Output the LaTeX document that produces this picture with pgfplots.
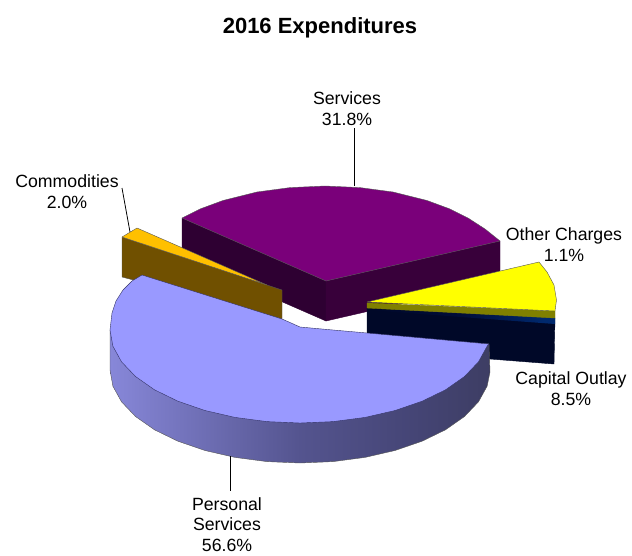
\documentclass[border=0pt]{standalone}
\usepackage{pgfplots}
\pgfplotsset{compat=1.18}
\usepackage{fontspec}
\setmainfont{Liberation Sans}
\definecolor{svcTop}{RGB}{122,0,122}
\definecolor{svcSideL}{RGB}{46,0,50}
\definecolor{svcSideR}{RGB}{56,0,58}
\definecolor{comTop}{RGB}{255,192,0}
\definecolor{comSide}{RGB}{112,80,0}
\definecolor{perTop}{RGB}{153,153,255}
\definecolor{othTop}{RGB}{255,255,0}
\definecolor{othSide}{RGB}{128,128,0}
\definecolor{capSide}{RGB}{0,8,40}
\definecolor{edge}{RGB}{85,85,85}
\definecolor{perEdge}{RGB}{50,50,100}
\pgfdeclarehorizontalshading{perSide}{100bp}{
  rgb(0bp)=(0.53,0.53,0.85);
  rgb(25bp)=(0.53,0.53,0.85);
  rgb(50bp)=(0.33,0.33,0.56);
  rgb(65bp)=(0.27,0.27,0.46);
  rgb(75bp)=(0.24,0.24,0.39);
  rgb(100bp)=(0.23,0.23,0.38)}
\pgfdeclarehorizontalshading{capBandShade}{100bp}{
  rgb(0bp)=(0,0.03,0.16);
  rgb(25bp)=(0,0.03,0.16);
  rgb(50bp)=(0,0.05,0.22);
  rgb(72bp)=(0,0.16,0.43);
  rgb(100bp)=(0,0.16,0.43)}
\begin{document}
\begin{tikzpicture}
\begin{axis}[
  scale only axis, width=632pt, height=553pt,
  xmin=0, xmax=632, ymin=0, ymax=553, y dir=reverse,
  hide axis, clip=false,
  every axis plot/.append style={mark=none, line width=0.4pt, line join=round},
]
% page frame
\addplot[draw=none] coordinates {(0,0) (632,553)};
% Services side faces
\addplot[fill=svcSideL, draw=svcSideL] coordinates {(182,218) (326,281) (326,321) (182,258) (182,218)};
\addplot[fill=svcSideR, draw=svcSideR] coordinates {(326,281) (500,241) (500,281) (326,321) (326,281)};
% Services top
\addplot[fill=svcTop, draw=edge] coordinates {(182,218) (200,209) (223,200.5) (257,192) (290,187.6) (325,186) (360,187.6) (393,192) (427,200.5) (450,209) (468,218) (485,229) (500,241) (326,281) (182,218)};
% Capital Outlay
\addplot[fill=capSide, draw=capSide] coordinates {(367,308) (555,318) (554,364) (490,359) (367,345) (367,308)};
\addplot[shading=capBandShade, draw=none] coordinates {(367,308) (555,318) (555,324) (367,310) (367,308)};
% Other Charges
\addplot[fill=othSide, draw=othSide] coordinates {(367,303) (555,311) (555,318) (367,308) (367,303)};
\addplot[fill=othTop, draw=edge] coordinates {(367,302) (539,262) (547,272) (554,285) (556.5,300) (555,311) (367,302)};
% Commodities
\addplot[fill=comSide, draw=edge] coordinates {(122,237) (282,290) (282,319) (122,277) (122,237)};
\addplot[fill=comTop, draw=edge] coordinates {(122,237) (137,228) (267,285) (122,237)};
% Personal Services side
\addplot[shading=perSide, draw=edge] coordinates {(489,344) (490,372) (487.1,386.2) (478.5,401.8) (464.5,416.5) (445.5,429.8) (422.1,441.2) (395,450.5) (365,457.4) (333,461.6) (300,463) (267,461.6) (235,457.4) (205,450.5) (177.9,441.2) (154.5,429.8) (135.5,416.5) (121.5,401.8) (112.9,386.2) (110,370) (110,330) (300,330) (489,344)};
% Personal Services top
\addplot[fill=perTop, draw=perEdge] coordinates {(142,275) (282,319) (290,322.5) (300,327) (333,330) (367,333) (489,344) (487.1,346.2) (478.5,361.8) (464.5,376.5) (445.5,389.8) (422.1,401.2) (395,410.5) (365,417.4) (333,421.6) (300,423) (267,421.6) (235,417.4) (205,410.5) (177.9,401.2) (154.5,389.8) (135.5,376.5) (121.5,361.8) (112.9,346.2) (110,330) (112,313) (116,301) (123,290) (132,281) (142,275)};
% Leader lines
\addplot[draw=black, line width=0.8pt] coordinates {(354,128) (354,186)};
\addplot[draw=black, line width=0.8pt] coordinates {(122,188) (130,232)};
\addplot[draw=black, line width=0.8pt] coordinates {(230,456) (230,491)};
% Text
\node[font=\fontsize{22}{26}\bfseries\selectfont, anchor=center] at (axis cs:320,28) {2016 Expenditures};
\node[font=\fontsize{17.7}{20.7}\selectfont, align=center] at (axis cs:347,108.5) {Services\\31.8\%};
\node[font=\fontsize{17.7}{20.7}\selectfont, align=center] at (axis cs:67,192) {Commodities\\2.0\%};
\node[font=\fontsize{17.7}{20.7}\selectfont, align=center] at (axis cs:564,244.5) {Other Charges\\1.1\%};
\node[font=\fontsize{17.7}{20.7}\selectfont, align=center] at (axis cs:571,388.5) {Capital Outlay\\8.5\%};
\node[font=\fontsize{17.7}{20.7}\selectfont, align=center] at (axis cs:227,524.5) {Personal\\Services\\56.6\%};
\end{axis}
\end{tikzpicture}
\end{document}
